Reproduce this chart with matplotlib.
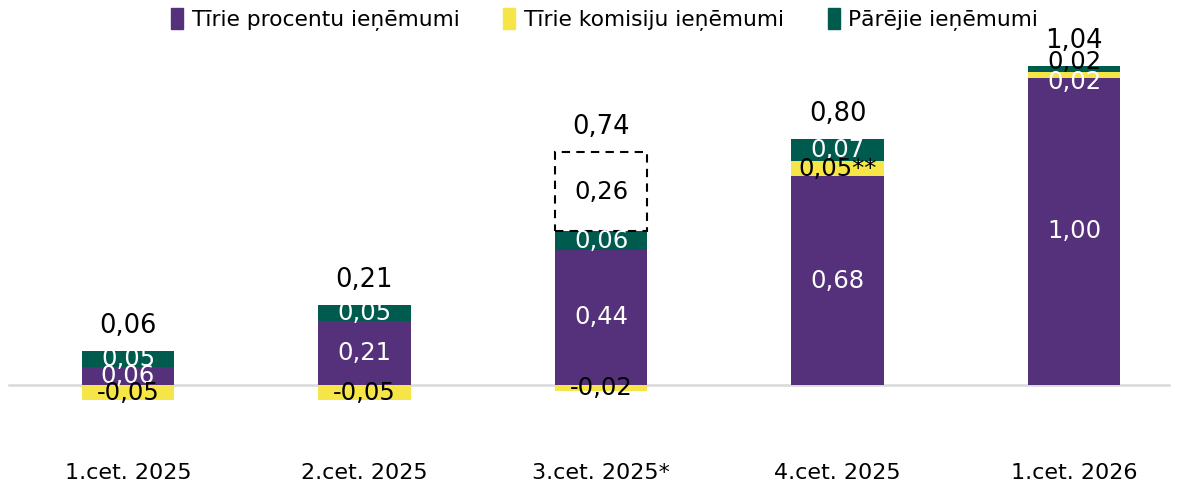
import matplotlib.pyplot as plt
from matplotlib.patches import Patch

# Data (EUR, mljrd.)
categories = ["1.cet. 2025", "2.cet. 2025", "3.cet. 2025*", "4.cet. 2025", "1.cet. 2026"]
interest = [0.06, 0.21, 0.44, 0.68, 1.00]
commission = [-0.05, -0.05, -0.02, 0.05, 0.02]
other = [0.05, 0.05, 0.06, 0.07, 0.02]
one_off = [0, 0, 0.26, 0, 0]
totals = [0.06, 0.21, 0.74, 0.80, 1.04]
commission_labels = ["-0,05", "-0,05", "-0,02", "0,05**", "0,02"]
series_names = ["Tīrie procentu ieņēmumi", "Tīrie komisiju ieņēmumi", "Pārējie ieņēmumi"]

purple = "#55317b"
yellow = "#f6e547"
green = "#005b4f"

plt.rcParams['font.family'] = ['DejaVu Sans']
fs = 17.5       # segment labels
fs_tot = 18.5   # totals
fs_cat = 16     # category labels
lw_txt = "normal"

fig = plt.figure(figsize=(11.81, 4.86), dpi=100)
ax = fig.add_axes([0, 0, 1, 1])
ax.set_xlim(-0.541, 4.452)
ax.set_ylim(-0.329, 1.254)
ax.axis("off")

x = list(range(len(categories)))
w = 0.39

def fmt(v):
    return f"{v:.2f}".replace(".", ",")

# zero line
ax.axhline(0, xmin=0.008, xmax=0.99, color="#d9d9d9", lw=1.8, zorder=1)

for i in x:
    pos_base = interest[i]
    ax.bar(i, interest[i], w, color=purple, zorder=2)
    if commission[i] >= 0:
        ax.bar(i, commission[i], w, bottom=pos_base, color=yellow, zorder=2)
        c_mid = pos_base + commission[i] / 2
        pos_base += commission[i]
    else:
        ax.bar(i, commission[i], w, bottom=0, color=yellow, zorder=2)
        c_mid = commission[i] / 2
    ax.bar(i, other[i], w, bottom=pos_base, color=green, zorder=2)
    o_mid = pos_base + other[i] / 2
    top = pos_base + other[i]
    if one_off[i]:
        ax.bar(i, one_off[i], w, bottom=top, facecolor="none", edgecolor="black",
               linestyle=(0, (4, 3)), lw=1.5, zorder=3)
        ax.text(i, top + one_off[i] / 2, fmt(one_off[i]), ha="center", va="center",
                fontsize=fs, fontweight=lw_txt, color="black", zorder=4)
        top += one_off[i]

    # segment labels (small top segments in last quarter nudged apart)
    o_off, c_off = 0, 0
    o_col = "white"
    c_col = "black" if i < 4 else "white"
    if i == 4:
        o_off, c_off, o_col = 5, -5, "black"
    ax.text(i, interest[i] / 2, fmt(interest[i]), ha="center", va="center",
            fontsize=fs, fontweight=lw_txt, color="white", zorder=4)
    ax.annotate(fmt(other[i]), (i, o_mid), xytext=(0, o_off), textcoords="offset points",
                ha="center", va="center", fontsize=fs, fontweight=lw_txt, color=o_col, zorder=4)
    ax.annotate(commission_labels[i], (i, c_mid), xytext=(0, c_off), textcoords="offset points",
                ha="center", va="center", fontsize=fs, fontweight=lw_txt, color=c_col, zorder=4)

    # totals
    ax.annotate(fmt(totals[i]), (i, top), xytext=(0, 18), textcoords="offset points",
                ha="center", va="center", fontsize=fs_tot, color="black")

    ax.text(i, -0.287, categories[i], ha="center", va="center", fontsize=fs_cat,
            fontweight=lw_txt, color="black")

handles = [Patch(color=c) for c in (purple, yellow, green)]
ax.legend(handles, series_names, loc="upper center", bbox_to_anchor=(0.512, 1.01), ncol=3,
          frameon=False, prop={"size": 15.7, "weight": lw_txt}, handlelength=0.55,
          handleheight=1.1, handletextpad=0.4, columnspacing=2.0, borderaxespad=0.2)

fig.savefig("out.png", dpi=100)
